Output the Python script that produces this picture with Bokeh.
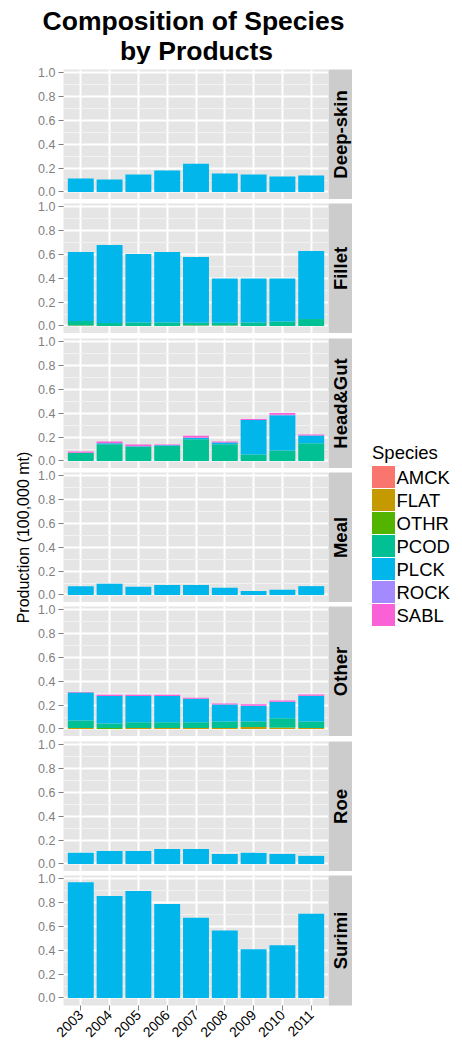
from math import pi
from bokeh.plotting import figure
from bokeh.layouts import row, column
from bokeh.models import ColumnDataSource, Range1d, FixedTicker, PrintfTickFormatter
from bokeh.core.properties import value
from bokeh.embed import file_html
from bokeh.resources import INLINE

FONT = "Liberation Sans"

# ---------------- data ----------------
years = [2003, 2004, 2005, 2006, 2007, 2008, 2009, 2010, 2011]
species = ["AMCK", "FLAT", "OTHR", "PCOD", "PLCK", "ROCK", "SABL"]
colors = ["#F8766D", "#C49A00", "#53B400", "#00C094", "#00B6EB", "#A58AFF", "#FB61D7"]
products = ["Deep-skin", "Fillet", "Head&Gut", "Meal", "Other", "Roe", "Surimi"]
y_ticks = [0.0, 0.2, 0.4, 0.6, 0.8, 1.0]
y_minor = [0.1, 0.3, 0.5, 0.7, 0.9]

deepskin_plck = [0.113, 0.105, 0.146, 0.179, 0.237, 0.154, 0.146, 0.129, 0.138]

fillet_flat = [0.004, 0.0, 0.0, 0.0, 0.004, 0.004, 0.0, 0.0, 0.0]
fillet_pcod = [0.037, 0.025, 0.030, 0.030, 0.023, 0.023, 0.030, 0.038, 0.058]
fillet_plck = [0.577, 0.651, 0.572, 0.588, 0.550, 0.369, 0.366, 0.358, 0.568]

headgut_pcod = [0.066, 0.140, 0.118, 0.126, 0.181, 0.140, 0.055, 0.088, 0.148]
headgut_plck = [0.003, 0.008, 0.005, 0.005, 0.014, 0.014, 0.288, 0.295, 0.066]
headgut_rock = [0.0, 0.0, 0.0, 0.0, 0.0, 0.0, 0.0, 0.004, 0.0]
headgut_sabl = [0.011, 0.014, 0.014, 0.006, 0.016, 0.008, 0.008, 0.014, 0.008]

meal_plck = [0.074, 0.094, 0.069, 0.083, 0.083, 0.061, 0.033, 0.044, 0.074]

other_flat = [0.008, 0.0, 0.008, 0.008, 0.008, 0.008, 0.016, 0.008, 0.008]
other_othr = [0.0, 0.008, 0.0, 0.0, 0.0, 0.0, 0.0, 0.005, 0.0]
other_pcod = [0.063, 0.038, 0.049, 0.049, 0.049, 0.055, 0.047, 0.077, 0.055]
other_plck = [0.233, 0.230, 0.219, 0.219, 0.195, 0.142, 0.132, 0.137, 0.214]
other_sabl = [0.005, 0.011, 0.011, 0.011, 0.008, 0.008, 0.011, 0.011, 0.011]

roe_plck = [0.093, 0.109, 0.109, 0.125, 0.125, 0.084, 0.093, 0.084, 0.068]

surimi_plck = [0.967, 0.852, 0.893, 0.786, 0.671, 0.564, 0.408, 0.441, 0.704]

composition = {
    "Deep-skin": {"PLCK": deepskin_plck},
    "Fillet": {"FLAT": fillet_flat, "PCOD": fillet_pcod, "PLCK": fillet_plck},
    "Head&Gut": {"PCOD": headgut_pcod, "PLCK": headgut_plck, "ROCK": headgut_rock, "SABL": headgut_sabl},
    "Meal": {"PLCK": meal_plck},
    "Other": {"FLAT": other_flat, "OTHR": other_othr, "PCOD": other_pcod, "PLCK": other_plck, "SABL": other_sabl},
    "Roe": {"PLCK": roe_plck},
    "Surimi": {"PLCK": surimi_plck},
}

title_lines = ["Composition of Species", "by Products"]
y_title = "Production (100,000 mt)"
legend_title = "Species"

# ---------------- layout constants ----------------
TITLE_H = 64
PANEL_H = 130
tops = [5, 4, 5, 4, 4, 5, 4]
bottoms = [0, 0, 0, 0, 0, 0, 44]
BODY_H = sum(tops) + sum(bottoms) + PANEL_H * len(products)
Y0, Y1 = -0.0627, 1.0234
TICK_COL = "#7F7F7F"


def source_for(prod):
    data = {"year": years}
    for sp in species:
        data[sp] = composition[prod].get(sp, [0.0] * len(years))
    return ColumnDataSource(data)


def make_panel(i, prod):
    top, bot = tops[i], bottoms[i]
    last = i == len(products) - 1
    p = figure(width=294, height=top + PANEL_H + bot,
               x_range=Range1d(years[0] - 0.6, years[-1] + 0.6), y_range=Range1d(Y0, Y1),
               output_backend="svg", toolbar_location=None, title=None,
               x_axis_location="below" if last else None,
               min_border_left=29, min_border_right=0, min_border_top=top, min_border_bottom=bot,
               background_fill_color="#E5E5E5", border_fill_color="white", outline_line_color=None)
    p.vbar_stack(species, x="year", width=0.9, fill_color=colors, line_color=None, source=source_for(prod))

    p.xgrid.ticker = FixedTicker(ticks=years)
    p.xgrid.grid_line_color = "white"
    p.xgrid.grid_line_width = 1.9
    p.ygrid.ticker = FixedTicker(ticks=y_ticks, minor_ticks=y_minor)
    p.ygrid.grid_line_color = "white"
    p.ygrid.grid_line_width = 1.9
    p.ygrid.minor_grid_line_color = "#F2F2F2"
    p.ygrid.minor_grid_line_width = 1.0

    ya = p.yaxis[0]
    ya.ticker = FixedTicker(ticks=y_ticks, minor_ticks=y_minor)
    ya.formatter = PrintfTickFormatter(format="%.1f")
    ya.axis_line_color = None
    ya.major_tick_line_color = TICK_COL
    ya.major_tick_out = 5
    ya.major_tick_in = 0
    ya.minor_tick_line_color = None
    ya.major_label_text_color = TICK_COL
    ya.major_label_text_font = FONT
    ya.major_label_text_font_size = "12.5px"
    ya.major_label_standoff = 3

    if last:
        xa = p.xaxis[0]
        xa.ticker = FixedTicker(ticks=years)
        xa.axis_line_color = None
        xa.major_tick_line_color = TICK_COL
        xa.major_tick_out = 5
        xa.major_tick_in = 0
        xa.minor_tick_line_color = None
        xa.major_label_orientation = pi / 4
        xa.major_label_text_color = "black"
        xa.major_label_text_font = FONT
        xa.major_label_text_font_size = "14px"
        xa.major_label_standoff = 2
    return p


def make_strip(i, prod):
    top, bot = tops[i], bottoms[i]
    s = figure(width=24, height=top + PANEL_H + bot, x_range=Range1d(0, 1), y_range=Range1d(0, 1),
               output_backend="svg", toolbar_location=None, title=None,
               x_axis_location=None, y_axis_location=None,
               min_border_left=0, min_border_right=0, min_border_top=top, min_border_bottom=bot,
               background_fill_color="#CCCCCC", border_fill_color="white", outline_line_color=None)
    s.grid.visible = False
    s.text(x=[0.5], y=[0.5], text=[prod], angle=pi / 2, text_align="center", text_baseline="middle",
           text_font=value(FONT), text_font_style="bold", text_font_size="18.5px", text_color="black")
    return s


rows = [row(make_panel(i, prod), make_strip(i, prod)) for i, prod in enumerate(products)]

# title
tfig = figure(width=458, height=TITLE_H, x_range=Range1d(0, 458), y_range=Range1d(TITLE_H, 0),
              output_backend="svg", toolbar_location=None, title=None,
              x_axis_location=None, y_axis_location=None,
              min_border=0, outline_line_color=None, background_fill_color="white")
tfig.grid.visible = False
tfig.text(x=[193, 196], y=[20, 50], text=title_lines, text_align="center", text_baseline="middle",
          text_font=value(FONT), text_font_style="bold", text_font_size="26.5px", text_color="black")

# y-axis title
ylab = figure(width=34, height=BODY_H, x_range=Range1d(0, 34), y_range=Range1d(BODY_H, 0),
              output_backend="svg", toolbar_location=None, title=None,
              x_axis_location=None, y_axis_location=None,
              min_border=0, outline_line_color=None, background_fill_color="white")
ylab.grid.visible = False
ylab.text(x=[23], y=[473], text=[y_title], angle=pi / 2, text_align="center", text_baseline="middle",
          text_font=value(FONT), text_font_size="16px", text_color="black")

# legend
leg = figure(width=106, height=BODY_H, x_range=Range1d(0, 106), y_range=Range1d(BODY_H, 0),
             output_backend="svg", toolbar_location=None, title=None,
             x_axis_location=None, y_axis_location=None,
             min_border=0, outline_line_color=None, background_fill_color="white")
leg.grid.visible = False
key_top, key_h = 401, 23
leg_src = ColumnDataSource(dict(
    sp=species, col=colors,
    y=[key_top + key_h * (k + 0.5) for k in range(len(species))],
))
leg.rect(x=31, y="y", width=24, height=key_h, fill_color="col", line_color="white", line_width=1,
         source=leg_src)
leg.text(x=44, y="y", text="sp", text_align="left", text_baseline="middle",
         text_font=value(FONT), text_font_size="18.5px", text_color="black", source=leg_src)
leg.text(x=[19.5], y=[388], text=[legend_title], text_align="left", text_baseline="middle",
         text_font=value(FONT), text_font_size="18.5px", text_color="black")

root = column(tfig, row(ylab, column(*rows), leg))

with open("out.html", "w") as f:
    f.write(file_html(root, INLINE))
